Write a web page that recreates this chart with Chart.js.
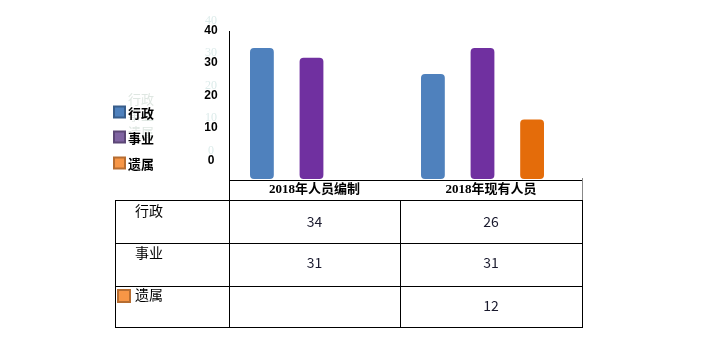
<!DOCTYPE html>
<html><head><meta charset="utf-8">
<script src="https://cdn.jsdelivr.net/npm/chart.js@4"></script>
<style>html,body{margin:0;padding:0;background:#fff}#wrap{width:712px;height:347px}</style>
</head><body><div id="wrap"><canvas id="c" width="712" height="347"></canvas></div>
<script>
// ---- data ----
const categories = ['2018年人员编制', '2018年现有人员'];
const seriesNames = ['行政', '事业', '遗属'];
const xingzheng = [34, 26];
const shiye = [31, 34];
const yishu = [null, 12];
const tableXingzheng = ['34', '26'];
const tableShiye = ['31', '31'];
const tableYishu = ['', '12'];
const yTicks = [0, 10, 20, 30, 40];

// ---- styles ----
const barColors = ['#4F81BD', '#7030A0', '#E46C0A'];
const legendFill = ['#4F81BD', '#8064A2', '#F79646'];
const legendBorder = ['#385D8A', '#5C4776', '#B66D31'];
const Y_MIN = -6.3, Y_MAX = 40;

const overlay = {
  id: 'overlay',
  beforeDraw(chart) {
    const ctx = chart.ctx;
    ctx.save();
    ctx.fillStyle = '#fff';
    ctx.fillRect(0, 0, chart.width, chart.height);
    ctx.restore();
  },
  afterDraw(chart) {
    const ctx = chart.ctx;
    const y = chart.scales.y;
    ctx.save();
    // ghost tick labels
    ctx.textAlign = 'center';
    ctx.textBaseline = 'middle';
    ctx.font = '12px "Liberation Serif"';
    ctx.fillStyle = '#dcebea';
    yTicks.forEach(v => ctx.fillText(String(v), 211, y.getPixelForValue(v) - 8));
    // tick labels
    ctx.font = 'bold 12px "Liberation Sans Narrow", "Liberation Sans"';
    ctx.fillStyle = '#000';
    yTicks.forEach(v => ctx.fillText(String(v), 211, y.getPixelForValue(v) + 2));

    // ghost legend text
    const legY = [112, 137, 163];
    const ghostY = [99, 115.5, 132];
    ctx.textAlign = 'left';
    ctx.font = '13px "Noto Sans CJK SC"';
    ctx.fillStyle = '#dfe7e2';
    seriesNames.forEach((n, i) => ctx.fillText(n, 128, ghostY[i]));
    // legend
    ctx.font = 'bold 13px "Noto Sans CJK SC"';
    seriesNames.forEach((n, i) => {
      ctx.fillStyle = legendBorder[i];
      ctx.fillRect(113, legY[i] - 6.5, 13, 13);
      ctx.fillStyle = legendFill[i];
      ctx.fillRect(115, legY[i] - 4.5, 9, 9);
      ctx.fillStyle = '#000';
      ctx.fillText(n, 128, legY[i] + 1);
    });

    // axis lines
    ctx.strokeStyle = '#000';
    ctx.lineWidth = 1;
    ctx.beginPath();
    ctx.moveTo(229.5, 31); ctx.lineTo(229.5, 327);
    ctx.moveTo(229, 180.5); ctx.lineTo(583, 180.5);
    ctx.stroke();
    ctx.strokeStyle = '#888';
    ctx.beginPath();
    ctx.moveTo(582.5, 178); ctx.lineTo(582.5, 200);
    ctx.stroke();

    // table
    const cols = [115, 229, 400, 582];
    const rows = [200, 243, 286, 327];
    ctx.strokeStyle = '#000';
    ctx.beginPath();
    rows.forEach(r => { ctx.moveTo(cols[0], r + 0.5); ctx.lineTo(cols[3] + 1, r + 0.5); });
    cols.forEach(c => { ctx.moveTo(c + 0.5, rows[0]); ctx.lineTo(c + 0.5, rows[3] + 1); });
    ctx.stroke();

    // category labels
    ctx.textAlign = 'center';
    ctx.font = 'bold 13px "Liberation Serif", "Noto Sans CJK SC"';
    ctx.fillStyle = '#000';
    categories.forEach((c, i) => ctx.fillText(c, (cols[i + 1] + cols[i + 2]) / 2, 190));

    // table rows
    const tableRows = [tableXingzheng, tableShiye, tableYishu];
    const rowLabelY = [211, 253, 295];
    const rowValY = [222, 263, 306];
    tableRows.forEach((vals, r) => {
      ctx.textAlign = 'left';
      ctx.font = '14px "Noto Sans CJK SC"';
      ctx.fillStyle = '#000';
      ctx.fillText(seriesNames[r], 135, rowLabelY[r]);
      ctx.textAlign = 'center';
      ctx.fillStyle = '#1a1a2e';
      vals.forEach((v, i) => ctx.fillText(v, (cols[i + 1] + cols[i + 2]) / 2, rowValY[r]));
    });
    // orange key in table
    ctx.fillStyle = legendBorder[2];
    ctx.fillRect(117, 289, 14, 14);
    ctx.fillStyle = legendFill[2];
    ctx.fillRect(119, 291, 10, 10);
    ctx.restore();
  }
};

const seriesData = [xingzheng, shiye, yishu];
new Chart(document.getElementById('c'), {
  type: 'bar',
  data: {
    labels: categories,
    datasets: seriesNames.map((n, i) => ({
      label: n,
      data: seriesData[i],
      backgroundColor: barColors[i],
      borderWidth: 0,
      borderRadius: 4,
      borderSkipped: false,
      base: Y_MIN,
      categoryPercentage: 0.87,
      barPercentage: 0.48
    }))
  },
  options: {
    responsive: false,
    animation: false,
    devicePixelRatio: 1,
    layout: { padding: { left: 226, right: 144, top: 28.5, bottom: 168 } },
    plugins: { legend: { display: false }, tooltip: { enabled: false } },
    scales: {
      x: { display: false, offset: true },
      y: { display: false, min: Y_MIN, max: Y_MAX }
    }
  },
  plugins: [overlay]
});
</script>
</body></html>
